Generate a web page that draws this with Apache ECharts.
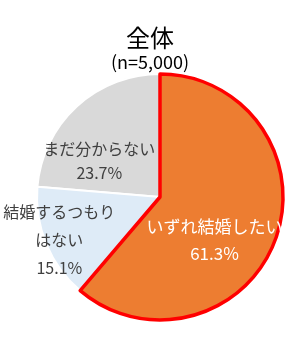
<!DOCTYPE html>
<html><head><meta charset="utf-8">
<script src="https://cdn.jsdelivr.net/npm/echarts@6/dist/echarts.min.js"></script>
<style>html,body{margin:0;padding:0;background:#fff}#c{width:300px;height:341px}</style>
</head><body><div id="c"></div>
<script>
const categories = ['まだ分からない', '結婚するつもり\nはない', 'いずれ結婚したい'];
const values = [23.7, 15.1, 61.3];
const colors = ['#D9D9D9', '#DEEBF7', '#ED7D31'];
const title = '全体';
const subtitle = '(n=5,000)';

const font = '"Noto Sans CJK JP", "Noto Sans", sans-serif';
const labelCfg = [
  {color:'#404040', offset:[-17, 11], lineHeight:24},
  {color:'#404040', offset:[-41, 18], lineHeight:28},
  {color:'#ffffff', offset:[-6, 21], lineHeight:27, fontSize:17}
];
const borders = [
  {borderColor:'#ffffff', borderWidth:2},
  {borderColor:'#ffffff', borderWidth:2},
  {borderColor:'#FF0000', borderWidth:3.5}
];
const data = categories.map((n,i)=>({
  name:n, value:values[i],
  itemStyle:Object.assign({color:colors[i]}, borders[i]),
  label:Object.assign({}, labelCfg[i])
}));
const chart = echarts.init(document.getElementById('c'), null, {renderer:'canvas'});
chart.setOption({
  animation:false,
  title:{text:title, subtext:subtitle, left:'center', top:21, itemGap:3,
    textStyle:{fontFamily:font, fontSize:24, fontWeight:'normal', color:'#000'},
    subtextStyle:{fontFamily:font, fontSize:18, color:'#000'}},
  series:[{
    type:'pie', center:[160,197], radius:[0,123], startAngle:90, clockwise:false,
    label:{show:true, position:'inside', fontFamily:font, fontSize:16,
      formatter:p=>p.name+'\n'+p.value.toFixed(1)+'%'},
    labelLine:{show:false},
    emphasis:{disabled:true},
    data:data
  }]
});
</script></body></html>
